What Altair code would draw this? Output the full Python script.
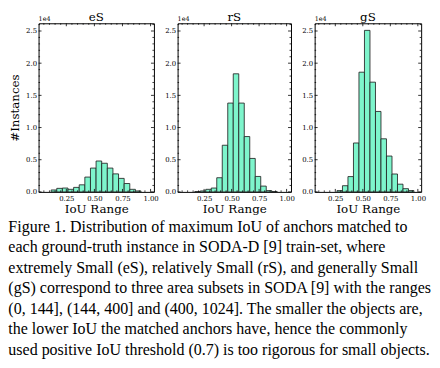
import altair as alt
import pandas as pd

# ---- data (counts per IoU bin) ----
BIN_WIDTH = 0.05
ES_STARTS = [0.115, 0.165, 0.215, 0.265, 0.315, 0.365, 0.415, 0.465, 0.515, 0.565,
             0.615, 0.665, 0.715, 0.765, 0.815, 0.865]
ES_COUNTS = [300, 550, 600, 400, 700, 1100, 2300, 3700, 4800, 4450,
             3700, 2800, 2100, 1300, 400, 150]

RS_STARTS = [0.165, 0.215, 0.265, 0.315, 0.365, 0.415, 0.465, 0.515, 0.565, 0.615,
             0.665, 0.715, 0.765, 0.815, 0.865]
RS_COUNTS = [50, 150, 400, 600, 2200, 7250, 13800, 18350, 13800, 8600,
             5200, 2400, 900, 200, 50]

GS_STARTS = [0.265, 0.315, 0.365, 0.415, 0.465, 0.515, 0.565, 0.615, 0.665, 0.715,
             0.765, 0.815, 0.865, 0.915]
GS_COUNTS = [200, 960, 2380, 7600, 18600, 25100, 17050, 12500, 8250, 5570,
             2780, 1200, 500, 200]

PANEL_NAMES = ["eS", "rS", "gS"]
X_DOMAINS = [[0.003, 1.03], [0.009, 1.04], [0.0625, 1.03]]
PANEL_WIDTHS = [117, 115, 108]
Y_DOMAIN = [0, 26200]

X_MAJOR = [0.25, 0.50, 0.75, 1.00]
X_MINOR = [0.05, 0.10, 0.15, 0.20, 0.30, 0.35, 0.40, 0.45, 0.55, 0.60, 0.65, 0.70,
           0.80, 0.85, 0.90, 0.95]
Y_MAJOR = [0, 5000, 10000, 15000, 20000, 25000]
Y_MINOR = [1000, 2000, 3000, 4000, 6000, 7000, 8000, 9000, 11000, 12000, 13000, 14000,
           16000, 17000, 18000, 19000, 21000, 22000, 23000, 24000, 26000]

CAPTION = [
    "Figure 1. Distribution of maximum IoU of anchors matched to",
    "each ground-truth instance in SODA-D [9] train-set, where",
    "extremely Small (eS), relatively Small (rS), and generally Small",
    "(gS) correspond to three area subsets in SODA [9] with the ranges",
    "(0, 144], (144, 400] and (400, 1024]. The smaller the objects are,",
    "the lower IoU the matched anchors have, hence the commonly",
    "used positive IoU threshold (0.7) is too rigorous for small objects.",
]

H = 171
SERIF = "DejaVu Serif"
FILL = "#7ef5cc"


def panel(name, starts, counts, xdom, width, show_ytitle):
    df = pd.DataFrame({"start": starts,
                       "end": [s + BIN_WIDTH for s in starts],
                       "count": counts})
    xs = alt.Scale(domain=xdom, nice=False, zero=False)
    ys = alt.Scale(domain=Y_DOMAIN, nice=False)
    yaxis = alt.Axis(values=Y_MAJOR, labelExpr="format(datum.value/10000, '.1f')",
                     ticks=False, grid=False, domain=False, labelPadding=2,
                     labelOverlap=False, labelFlush=False,
                     labelFont=SERIF, labelFontSize=7, labelColor="black",
                     title="#Instances" if show_ytitle else "",
                     titleFont=SERIF, titleFontSize=12, titleFontWeight="normal",
                     titleColor="black", titlePadding=4)
    xaxis = alt.Axis(values=X_MAJOR, format=".2f", ticks=False, grid=False, domain=False,
                     labelPadding=3, labelOverlap=False, labelFlush=False,
                     labelFont=SERIF, labelFontSize=7, labelColor="black",
                     title="IoU Range", titleFont=SERIF, titleFontSize=12,
                     titleFontWeight="normal", titleColor="black", titlePadding=2)
    bars = alt.Chart(df).mark_bar(fill=FILL, stroke="#222222", strokeOpacity=0.85,
                                  strokeWidth=1).encode(
        x=alt.X("start:Q", scale=xs, axis=xaxis),
        x2="end:Q",
        y=alt.Y("count:Q", scale=ys, axis=yaxis),
        y2=alt.datum(0),
    )
    layers = [bars]
    for vals, ln in ((Y_MAJOR, 3), (Y_MINOR, 1.5)):
        tdf = pd.DataFrame({"count": vals})
        layers.append(alt.Chart(tdf).mark_rule(color="black", strokeWidth=0.8).encode(
            y=alt.Y("count:Q", scale=ys, axis=yaxis), x=alt.value(0), x2=alt.value(ln)))
        layers.append(alt.Chart(tdf).mark_rule(color="black", strokeWidth=0.8).encode(
            y=alt.Y("count:Q", scale=ys, axis=yaxis), x=alt.value(width - ln),
            x2=alt.value(width)))
    for vals, ln in ((X_MAJOR, 3), (X_MINOR, 1.5)):
        v = [t for t in vals if xdom[0] < t < xdom[1]]
        tdf = pd.DataFrame({"start": v})
        layers.append(alt.Chart(tdf).mark_rule(color="black", strokeWidth=0.8).encode(
            x=alt.X("start:Q", scale=xs, axis=xaxis), y=alt.value(H - ln), y2=alt.value(H)))
        layers.append(alt.Chart(tdf).mark_rule(color="black", strokeWidth=0.8).encode(
            x=alt.X("start:Q", scale=xs, axis=xaxis), y=alt.value(0), y2=alt.value(ln)))
    offs = alt.Chart(pd.DataFrame({"t": ["1e4"]})).mark_text(
        font=SERIF, fontSize=6.5, align="left", baseline="bottom", color="black").encode(
        text="t:N", x=alt.value(0), y=alt.value(-1))
    layers.append(offs)
    return alt.layer(*layers).properties(
        width=width, height=H,
        title=alt.TitleParams(name, font=SERIF, fontSize=12, fontWeight="normal",
                              color="black", offset=-8),
    )


p1 = panel(PANEL_NAMES[0], ES_STARTS, ES_COUNTS, X_DOMAINS[0], PANEL_WIDTHS[0], True)
p2 = panel(PANEL_NAMES[1], RS_STARTS, RS_COUNTS, X_DOMAINS[1], PANEL_WIDTHS[1], False)
p3 = panel(PANEL_NAMES[2], GS_STARTS, GS_COUNTS, X_DOMAINS[2], PANEL_WIDTHS[2], False)

chart = alt.hconcat(p1, p2, p3, spacing=24, bounds="flush").properties(
    padding=0,
    title=alt.TitleParams(CAPTION, orient="bottom", anchor="start", frame="bounds",
                          font="Liberation Serif", fontSize=16.2, fontWeight="normal",
                          lineHeight=20.8, color="black", offset=4),
).configure_view(stroke="black", strokeWidth=1)

chart.save("out.html", embed_options={"renderer": "svg", "actions": False})
